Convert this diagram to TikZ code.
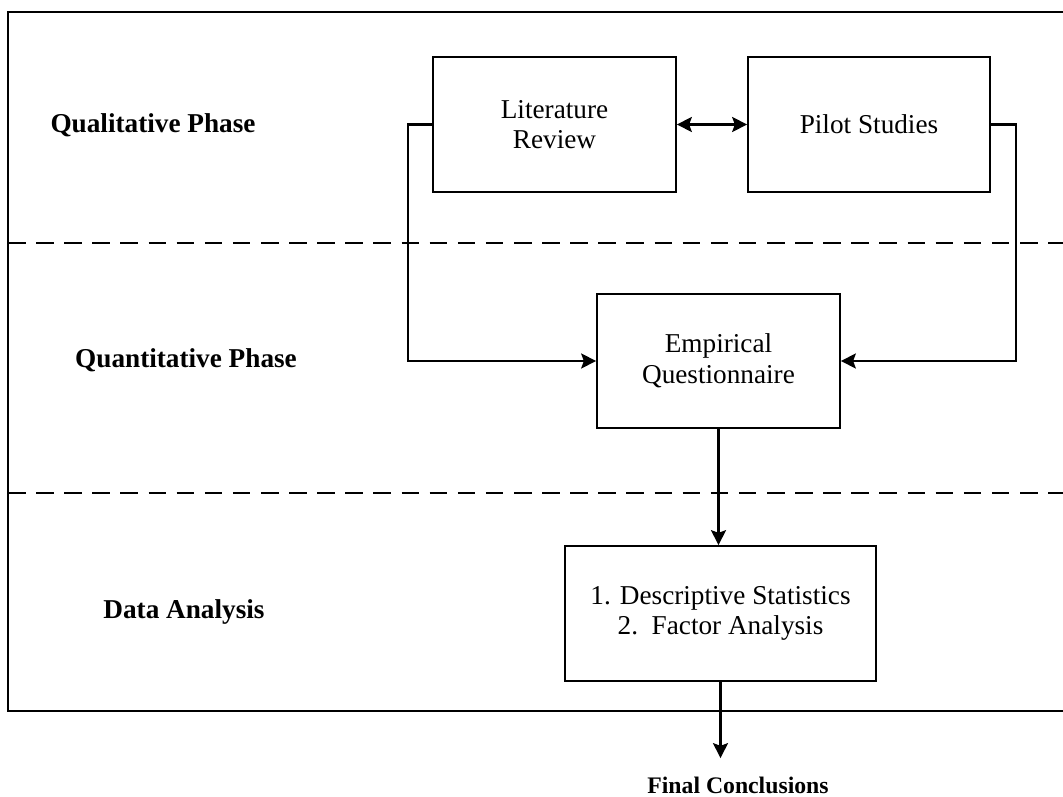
\documentclass[tikz,border=0pt]{standalone}
\usepackage{fontspec}
\setmainfont{Liberation Serif}
\usetikzlibrary{arrows.meta}

\tikzset{
  box/.style={draw,line width=1pt,inner sep=0pt,align=center,
    font=\fontsize{15.5}{17.5}\selectfont},
  phase/.style={font=\fontsize{15.5}{18}\selectfont\bfseries},
  link/.style={line width=1.4pt},
  divider/.style={line width=1.3pt,dash pattern=on 10pt off 6pt}
}

\begin{document}
\begin{tikzpicture}[x=0.02cm,y=-0.02cm,>={Stealth[length=8.5pt,width=8.5pt,inset=1.5pt]}]
\useasboundingbox (0,0) rectangle (1063,797);
\clip (0,0) rectangle (1063,797);

% frame and phase borders
\draw[line width=1pt] (8,12) rectangle (1080,711);
\draw[divider] (8,243) -- (1063,243);
\draw[divider] (8,493) -- (1063,493);

\node[phase] (qual) at (153,125) {Qualitative Phase};
\node[phase] (quant) at (186,360) {Quantitative Phase};
\node[phase] (anal) at (184,612) {Data Analysis};

\node[box,minimum width=4.86cm,minimum height=2.7cm] (lit) at (554.5,124.5) {Literature\\Review};
\node[box,minimum width=4.84cm,minimum height=2.7cm] (pilot) at (869,124.5) {Pilot Studies};
\node[box,minimum width=4.86cm,minimum height=2.68cm] (emp) at (718.5,361) {Empirical\\Questionnaire};
\node[box,minimum width=6.22cm,minimum height=2.7cm] (stats) at (720.5,613.5) {1. Descriptive Statistics\\2.\ \ Factor Analysis};
\node[phase,font=\fontsize{13.5}{16}\selectfont\bfseries] (final) at (738,785) {Final Conclusions};

\draw[link,<->] (lit) -- (pilot);
\draw[link,->] (lit.west) -- ++(-24,0) |- (emp.west);
\draw[link,->] (pilot.east) -- ++(25,0) |- (emp.east);
\draw[link,->] (emp.south) -- (emp.south |- stats.north);
\draw[link,->,shorten >=7pt] (stats.south) -- (stats.south |- final.north);

\end{tikzpicture}
\end{document}
